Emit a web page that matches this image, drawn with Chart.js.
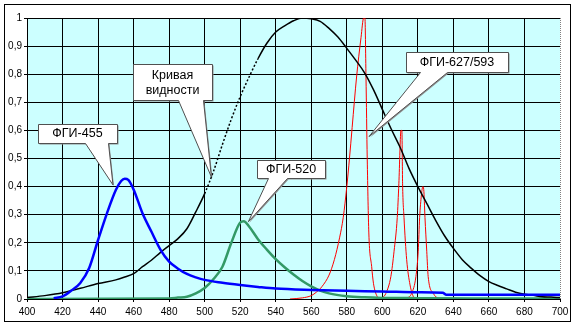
<!DOCTYPE html>
<html>
<head>
<meta charset="utf-8">
<script src="https://cdn.jsdelivr.net/npm/chart.js@4/dist/chart.umd.min.js"></script>
<style>
  body { margin: 0; background: #ffffff; }
  canvas { display: block; }
</style>
</head>
<body>
<canvas id="chart" width="575" height="327"></canvas>
<script>
// Кривая видности (black)
const blackNm = [400,410,420,430,440,450,455,460,465,470,475,480,485,490,495,500,505,510,515,520,525,530,535,540,545,550,555,560,565,570,575,580,585,590,595,600,605,610,615,620,625,630,635,640,645,650,655,660,665,670,675,680,685,690,695,700];
const blackVal = [0.005,0.012,0.022,0.038,0.055,0.068,0.078,0.09,0.115,0.138,0.165,0.19,0.215,0.25,0.31,0.375,0.455,0.55,0.64,0.72,0.79,0.855,0.91,0.95,0.972,0.99,1.0,0.997,0.988,0.963,0.932,0.892,0.85,0.805,0.745,0.675,0.605,0.54,0.465,0.4,0.34,0.28,0.225,0.18,0.14,0.11,0.083,0.062,0.048,0.036,0.024,0.017,0.013,0.008,0.007,0.005];

// ФГИ-455 (blue)
const blueNm = [415,420,425,430,435,440,445,450,453,455,457,460,465,470,475,480,485,490,495,500,510,520,530,540,560,580,600,620,634,636,660,700];
const blueVal = [0.003,0.009,0.03,0.057,0.11,0.21,0.305,0.388,0.42,0.428,0.424,0.39,0.305,0.24,0.177,0.133,0.108,0.089,0.077,0.068,0.058,0.05,0.043,0.037,0.032,0.029,0.027,0.024,0.022,0.015,0.015,0.015];

// ФГИ-520 (green)
const greenNm = [400,480,485,490,495,500,505,510,515,520,522,525,530,535,540,545,550,555,560,565,570,580,590,600,620,650,700];
const greenVal = [0,0.002,0.005,0.008,0.02,0.039,0.071,0.115,0.2,0.272,0.277,0.258,0.213,0.176,0.142,0.113,0.087,0.064,0.045,0.03,0.02,0.01,0.006,0.004,0.003,0.002,0.002];

// ФГИ-627/593 (red), two traces
const redANm = [548,555,560,563,566,570,573,576,578,580,581.5,583,585.5,588,589.5,590.2,590.8,591.5,592.4,594,595,597,599,600,602,604.8,606.6,608.4,609.3,610.5,611,611.4,612.2,613.7,615.6,617.5,619];
const redAVal = [0,0.004,0.012,0.025,0.044,0.085,0.14,0.22,0.29,0.4,0.5,0.61,0.79,0.93,1.0,1.0,0.79,0.5,0.235,0.115,0.056,0.01,0,0.004,0.02,0.08,0.17,0.29,0.41,0.6,0.6,0.41,0.29,0.14,0.05,0.008,0];
const redBNm = [612,613.7,616.5,618.9,620.2,621,622,622.8,623.3,624,625,625.8,628.7,631.5];
const redBVal = [0,0.003,0.02,0.08,0.17,0.29,0.37,0.4,0.39,0.29,0.17,0.08,0.02,0];

// callout labels: text, box centre and tip in data units
const calloutText = [['ФГИ-455'], ['Кривая', 'видности'], ['ФГИ-520'], ['ФГИ-627/593']];
const calloutAt = [[428.4, 0.589], [481.9, 0.772], [548.6, 0.463], [642.0, 0.843]];
const calloutTip = [[448.4, 0.406], [503.8, 0.434], [524.6, 0.275], [592.5, 0.578]];

const pts = (xs, ys) => xs.map((x, i) => ({ x: x, y: ys[i] })); // pair up x and y

const FONT = '"Liberation Sans", Arial, sans-serif';

// box sizes and wedge base (px, relative to box centre)
const boxLook = [
  { w: 79, h: 19, b0: 7.5, b1: 30.5 },
  { w: 79, h: 36, b0: 5.5, b1: 30.5 },
  { w: 68, h: 18, b0: -23, b1: -4 },
  { w: 102, h: 20, b0: -37, b1: -10 }
];

const framePlugin = {
  id: 'frame',
  beforeDraw(chart) {
    const { ctx, chartArea: a } = chart;
    ctx.save();
    ctx.fillStyle = '#CCFFFF'; // plot area fill
    ctx.fillRect(a.left, a.top, a.right - a.left, a.bottom - a.top);
    ctx.restore();
  },
  afterDraw(chart) {
    const { ctx, chartArea: a, scales } = chart;
    ctx.save();
    // dotted right edge of the plot area
    ctx.strokeStyle = '#808080';
    ctx.lineWidth = 1;
    ctx.setLineDash([1, 1]);
    ctx.beginPath();
    ctx.moveTo(Math.round(a.right) + 0.5, a.top);
    ctx.lineTo(Math.round(a.right) + 0.5, a.bottom);
    ctx.stroke();
    ctx.setLineDash([]);

    // callouts
    calloutText.forEach((lines, i) => {
      const look = boxLook[i];
      const cx = scales.x.getPixelForValue(calloutAt[i][0]);
      const cy = scales.y.getPixelForValue(calloutAt[i][1]);
      const tx = scales.x.getPixelForValue(calloutTip[i][0]);
      const ty = scales.y.getPixelForValue(calloutTip[i][1]);
      const l = Math.round(cx - look.w / 2) + 0.5, r = Math.round(cx + look.w / 2) + 0.5;
      const t = Math.round(cy - look.h / 2) + 0.5, b = Math.round(cy + look.h / 2) + 0.5;
      const shape = (dx, dy) => {
        ctx.beginPath();
        ctx.moveTo(l + dx, t + dy);
        ctx.lineTo(r + dx, t + dy);
        ctx.lineTo(r + dx, b + dy);
        ctx.lineTo(Math.round(cx + look.b1) + 0.5 + dx, b + dy);
        ctx.lineTo(tx + dx, ty + dy);
        ctx.lineTo(Math.round(cx + look.b0) + 0.5 + dx, b + dy);
        ctx.lineTo(l + dx, b + dy);
        ctx.closePath();
      };
      shape(1, 1);
      ctx.fillStyle = '#909090'; // soft shadow
      ctx.fill();
      shape(0, 0);
      ctx.fillStyle = '#ffffff';
      ctx.fill();
      ctx.strokeStyle = '#505050';
      ctx.stroke();
      ctx.fillStyle = '#000000';
      ctx.font = '12.5px ' + FONT;
      ctx.textAlign = 'center';
      ctx.textBaseline = 'middle';
      const lh = 15;
      lines.forEach((s, k) => {
        ctx.fillText(s, cx, cy + 0.5 + (k - (lines.length - 1) / 2) * lh);
      });
    });

    // outer frame
    ctx.strokeStyle = '#000000';
    ctx.lineWidth = 1;
    ctx.strokeRect(4.5, 4.5, 566, 317);
    ctx.restore();
  }
};

const dotted = ctx => (ctx.p0.parsed.x >= 498 && ctx.p1.parsed.x <= 532) ? [2, 2] : undefined;

new Chart(document.getElementById('chart'), {
  type: 'line',
  data: {
    datasets: [
      { data: pts(blueNm, blueVal), borderColor: '#0000FF', borderWidth: 2.5 },
      { data: pts(blackNm, blackVal), borderColor: '#000000', borderWidth: 1.5, segment: { borderDash: dotted } },
      { data: pts(greenNm, greenVal), borderColor: '#339966', borderWidth: 2.5 },
      { data: pts(redANm, redAVal), borderColor: '#FF0000', borderWidth: 1 },
      { data: pts(redBNm, redBVal), borderColor: '#FF0000', borderWidth: 1 }
    ]
  },
  options: {
    responsive: false,
    animation: false,
    devicePixelRatio: 1,
    parsing: false,
    elements: {
      point: { radius: 0 },
      line: { cubicInterpolationMode: 'monotone', fill: false }
    },
    layout: { padding: { left: 0, right: 15, top: 18, bottom: 0 } },
    plugins: { legend: { display: false }, tooltip: { enabled: false } },
    scales: {
      x: {
        type: 'linear',
        min: 400,
        max: 700,
        afterFit: axis => { axis.height = 28; },
        border: { display: true, color: '#000000', width: 1 },
        grid: {
          color: c => (c.tick && c.tick.value === 700) ? 'rgba(0,0,0,0)' : '#000000',
          lineWidth: 1,
          tickLength: 3,
          tickColor: '#000000'
        },
        ticks: {
          stepSize: 20,
          autoSkip: false,
          maxRotation: 0,
          padding: 4,
          color: '#000000',
          font: { family: FONT, size: 10 }
        }
      },
      y: {
        min: 0,
        max: 1,
        afterFit: axis => { axis.width = 27; },
        border: { display: true, color: '#000000', width: 1 },
        grid: { color: '#000000', lineWidth: 1, tickLength: 3, tickColor: '#000000' },
        ticks: {
          stepSize: 0.1,
          padding: 2,
          color: '#000000',
          font: { family: FONT, size: 10 },
          callback: v => String(Math.round(v * 10) / 10).replace('.', ',')
        }
      }
    }
  },
  plugins: [framePlugin]
});
</script>
</body>
</html>
